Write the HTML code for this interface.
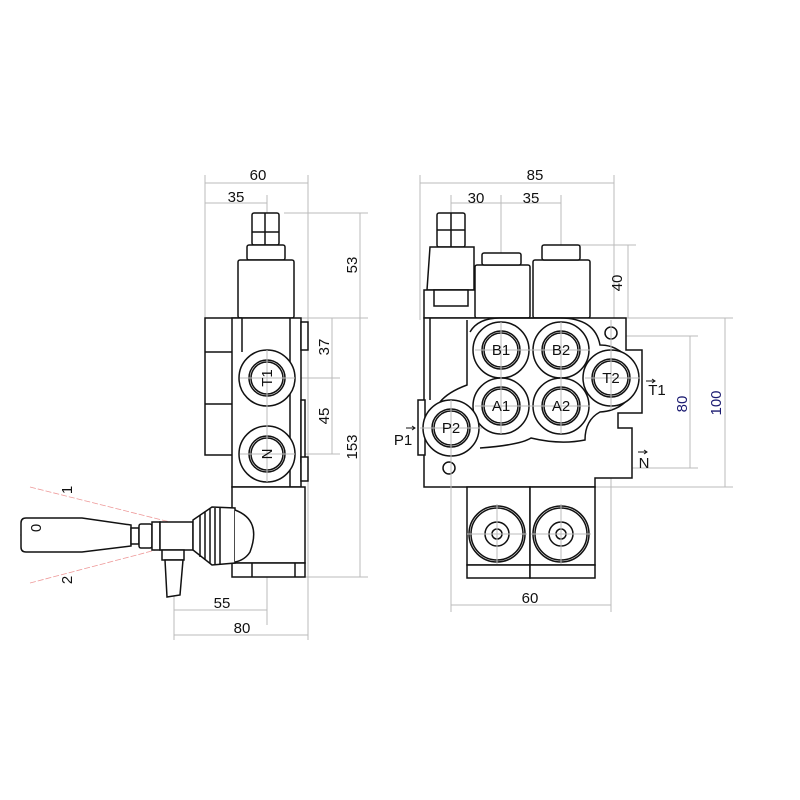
<!DOCTYPE html>
<html><head><style>body{margin:0;background:#fff}svg{display:block}</style></head><body>
<svg width="800" height="800" viewBox="0 0 800 800" xmlns="http://www.w3.org/2000/svg" font-family="Liberation Sans, sans-serif">
<rect width="800" height="800" fill="#fff"/>
<g stroke="#bbb" stroke-width="1" fill="none">
<line x1="205" y1="175" x2="205" y2="320"/><line x1="308" y1="175" x2="308" y2="640"/><line x1="267" y1="195" x2="267" y2="625"/>
<line x1="205" y1="183" x2="308" y2="183"/><line x1="205" y1="203" x2="267" y2="203"/>
<line x1="284" y1="213" x2="368" y2="213"/><line x1="298" y1="318" x2="368" y2="318"/><line x1="240" y1="378" x2="340" y2="378"/><line x1="240" y1="454" x2="340" y2="454"/><line x1="300" y1="577" x2="368" y2="577"/>
<line x1="360" y1="213" x2="360" y2="577"/><line x1="332" y1="318" x2="332" y2="454"/>
<line x1="174" y1="545" x2="174" y2="640"/><line x1="174" y1="610" x2="267" y2="610"/><line x1="174" y1="635" x2="308" y2="635"/>
<line x1="20" y1="535" x2="275" y2="535"/>
<line x1="420" y1="175" x2="420" y2="320"/><line x1="614" y1="175" x2="614" y2="330"/>
<line x1="420" y1="183" x2="614" y2="183"/><line x1="451" y1="203" x2="561" y2="203"/>
<line x1="451" y1="195" x2="451" y2="612"/><line x1="501" y1="195" x2="501" y2="420"/><line x1="561" y1="195" x2="561" y2="420"/><line x1="611" y1="320" x2="611" y2="612"/>
<line x1="451" y1="605" x2="611" y2="605"/>
<line x1="570" y1="245" x2="636" y2="245"/><line x1="628" y1="245" x2="628" y2="318"/>
<line x1="600" y1="336" x2="698" y2="336"/><line x1="690" y1="336" x2="690" y2="468"/><line x1="440" y1="468" x2="698" y2="468"/>
<line x1="600" y1="318" x2="733" y2="318"/><line x1="725" y1="318" x2="725" y2="487"/><line x1="595" y1="487" x2="733" y2="487"/>
</g>
<g stroke="#e99" stroke-width="0.8" fill="none" stroke-dasharray="6 2">
<line x1="30" y1="487" x2="262" y2="545"/><line x1="30" y1="583" x2="232" y2="530"/>
</g>
<g stroke="#111" stroke-width="1.5" fill="#fff">
<rect x="252" y="213" width="27" height="32" rx="2"/>
<line x1="265" y1="213" x2="265" y2="245"/><line x1="252" y1="232" x2="279" y2="232"/>
<rect x="247" y="245" width="38" height="15" rx="2"/>
<rect x="238" y="260" width="56" height="58" rx="2"/>
<rect x="205" y="318" width="36" height="137"/>
<line x1="205" y1="352" x2="241" y2="352"/><line x1="205" y1="404" x2="241" y2="404"/>
<rect x="232" y="318" width="69" height="169"/>
<line x1="242" y1="318" x2="242" y2="352"/><line x1="290" y1="318" x2="290" y2="487"/>
<rect x="301" y="322" width="7" height="28"/><rect x="301" y="400" width="4" height="62"/><rect x="301" y="457" width="7" height="24"/>
<circle cx="267" cy="378" r="28"/><circle cx="267" cy="378" r="18"/><circle cx="267" cy="378" r="16"/>
<circle cx="267" cy="454" r="28"/><circle cx="267" cy="454" r="18"/><circle cx="267" cy="454" r="16"/>
<rect x="232" y="487" width="73" height="76"/>
<rect x="232" y="563" width="73" height="14"/><line x1="252" y1="563" x2="252" y2="577"/><line x1="295" y1="563" x2="295" y2="577"/>
<path d="M26,518 L82,518 L131,525 L131,546 L82,552 L26,552 Q21,552 21,547 L21,523 Q21,518 26,518 Z"/>
<rect x="131" y="528" width="8" height="16"/><rect x="139" y="524" width="13" height="24" rx="2"/><rect x="152" y="522" width="8" height="28"/>
<rect x="160" y="522" width="33" height="28"/>
<rect x="162" y="550" width="22" height="10"/>
<path d="M165,560 L183,560 L180,595 L167,597 Z"/>
<path d="M193,520 L212,507 L235,508 L235,563 L212,565 L193,550 Z"/>
<line x1="200" y1="515" x2="200" y2="557"/><line x1="205" y1="512" x2="205" y2="560"/><line x1="210" y1="509" x2="210" y2="563"/><line x1="215" y1="508" x2="215" y2="564"/><line x1="220" y1="508" x2="220" y2="564"/>
<path d="M235,510 Q262,520 250,552 Q245,560 235,562"/>
<rect x="437" y="213" width="28" height="34" rx="2"/><line x1="451" y1="213" x2="451" y2="247"/><line x1="437" y1="230" x2="465" y2="230"/>
<path d="M430,247 L474,247 L474,290 L427,290 Z"/>
<rect x="424" y="290" width="54" height="28"/><rect x="434" y="290" width="34" height="16"/>
<rect x="475" y="265" width="55" height="53" rx="2"/><rect x="482" y="253" width="39" height="12" rx="2"/>
<rect x="533" y="260" width="57" height="58" rx="2"/><rect x="542" y="245" width="38" height="15" rx="2"/>
<path d="M424,318 L626,318 L626,350 L642,350 L642,413 L618,413 L618,428 L632,428 L632,478 L595,478 L595,487 L424,487 Z"/>
<rect x="418" y="400" width="7" height="55"/>
<line x1="430" y1="318" x2="430" y2="400"/>
<path d="M467,320 L467,385 Q448,392 440,402" fill="none"/>
<path d="M470,332 Q478,318 500,318 L560,318 Q595,318 600,345 Q625,345 638,375 Q632,410 600,412 Q585,420 585,440 Q560,445 531,438 Q520,445 480,448" fill="none"/>
<circle cx="611" cy="333" r="6"/><circle cx="449" cy="468" r="6"/>
<circle cx="501" cy="350" r="28"/><circle cx="501" cy="350" r="19"/><circle cx="501" cy="350" r="17"/>
<circle cx="561" cy="350" r="28"/><circle cx="561" cy="350" r="19"/><circle cx="561" cy="350" r="17"/>
<circle cx="501" cy="406" r="28"/><circle cx="501" cy="406" r="19"/><circle cx="501" cy="406" r="17"/>
<circle cx="561" cy="406" r="28"/><circle cx="561" cy="406" r="19"/><circle cx="561" cy="406" r="17"/>
<circle cx="611" cy="378" r="28"/><circle cx="611" cy="378" r="19"/><circle cx="611" cy="378" r="17"/>
<circle cx="451" cy="428" r="28"/><circle cx="451" cy="428" r="19"/><circle cx="451" cy="428" r="17"/>
<rect x="467" y="487" width="63" height="78"/><rect x="530" y="487" width="65" height="78"/>
<rect x="467" y="565" width="63" height="13"/><rect x="530" y="565" width="65" height="13"/>
<circle cx="497" cy="534" r="28"/><circle cx="497" cy="534" r="26"/><circle cx="497" cy="534" r="12"/><circle cx="497" cy="534" r="5"/>
<circle cx="561" cy="534" r="28"/><circle cx="561" cy="534" r="26"/><circle cx="561" cy="534" r="12"/><circle cx="561" cy="534" r="5"/>
</g>
<g stroke="#bbb" stroke-width="1">
<line x1="240" y1="378" x2="295" y2="378"/><line x1="240" y1="454" x2="295" y2="454"/><line x1="267" y1="350" x2="267" y2="482"/>
<line x1="475" y1="350" x2="590" y2="350"/><line x1="475" y1="406" x2="590" y2="406"/><line x1="420" y1="428" x2="482" y2="428"/><line x1="585" y1="378" x2="640" y2="378"/>
<line x1="501" y1="322" x2="501" y2="434"/><line x1="561" y1="322" x2="561" y2="434"/><line x1="611" y1="320" x2="611" y2="410"/><line x1="451" y1="400" x2="451" y2="490"/>
<line x1="497" y1="504" x2="497" y2="564"/><line x1="561" y1="504" x2="561" y2="564"/><line x1="467" y1="534" x2="527" y2="534"/><line x1="531" y1="534" x2="591" y2="534"/>
</g>
<g fill="#111" font-size="15" text-anchor="middle">
<text x="258" y="180">60</text><text x="236" y="202">35</text>
<text x="222" y="608">55</text><text x="242" y="633">80</text>
<text transform="translate(357,265) rotate(-90)">53</text>
<text transform="translate(329,347) rotate(-90)">37</text>
<text transform="translate(329,416) rotate(-90)">45</text>
<text transform="translate(357,447) rotate(-90)">153</text>
<text transform="translate(41,528) rotate(-90)">0</text>
<text transform="translate(72,490) rotate(-90)">1</text>
<text transform="translate(72,580) rotate(-90)">2</text>
<text transform="translate(272,378) rotate(-90)">T1</text>
<text transform="translate(272,454) rotate(-90)">N</text>
<text x="535" y="180">85</text><text x="476" y="203">30</text><text x="531" y="203">35</text>
<text x="530" y="603">60</text>
<text transform="translate(622,283) rotate(-90)">40</text>
<text transform="translate(687,404) rotate(-90)" fill="#1a1a70">80</text>
<text transform="translate(721,403) rotate(-90)" fill="#1a1a70">100</text>
<text x="501" y="355">B1</text><text x="561" y="355">B2</text>
<text x="501" y="411">A1</text><text x="561" y="411">A2</text>
<text x="611" y="383">T2</text><text x="451" y="433">P2</text>
<text x="403" y="445">P1</text><text x="657" y="395">T1</text><text x="644" y="468">N</text>
</g>
<g stroke="#111" stroke-width="1" fill="none">
<path d="M406,428 L415,428 M412,426 L415,428 L412,430"/>
<path d="M646,381 L655,381 M652,379 L655,381 L652,383"/>
<path d="M638,452 L647,452 M644,450 L647,452 L644,454"/>
</g>
</svg>
</body></html>
